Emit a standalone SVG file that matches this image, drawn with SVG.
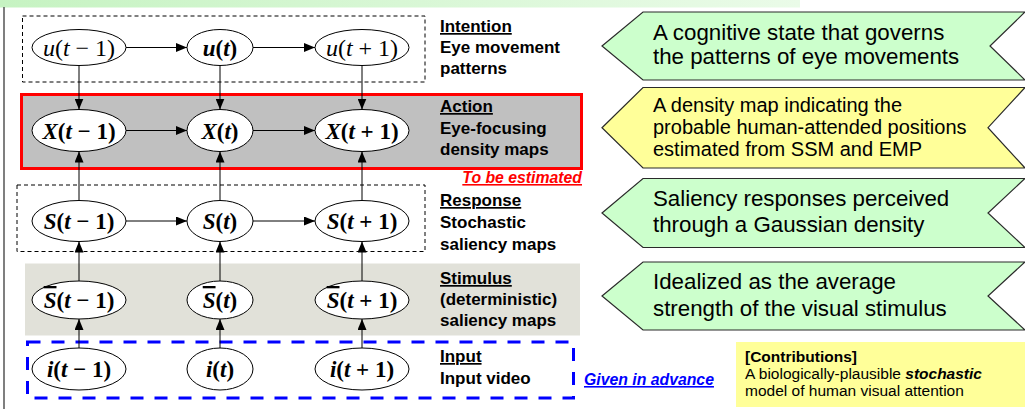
<svg xmlns="http://www.w3.org/2000/svg" width="1025" height="409" viewBox="0 0 1025 409">
<defs>
  <linearGradient id="hdr" x1="0" y1="0" x2="1" y2="0">
    <stop offset="0" stop-color="#c6f3c2"/>
    <stop offset="1" stop-color="#eafbe8"/>
  </linearGradient>
  <marker id="ah" viewBox="0 0 11 9" refX="11" refY="4.5" markerWidth="11" markerHeight="9" markerUnits="userSpaceOnUse" orient="auto">
    <path d="M0,0 L11,4.5 L0,9 z" fill="#000"/>
  </marker>
</defs>
<style>
  .node ellipse{fill:#fff;stroke:#000;stroke-width:1}
  .m{font-family:"Liberation Serif","DejaVu Serif",serif;font-size:23px;font-weight:bold;text-anchor:middle;fill:#000}
  .mr{font-weight:normal;font-size:24px}
  .it{font-style:italic}
  .lbl{font-family:"Liberation Sans",Arial,sans-serif;font-size:17px;font-weight:bold;fill:#000}
  .ul{text-decoration:underline}
  .ol{text-decoration:overline}
  .conn line{stroke:#000;stroke-width:1;marker-end:url(#ah)}
  .chev{stroke:#2a2a2a;stroke-width:1.2}
  .ct{font-family:"Liberation Sans",Arial,sans-serif;font-size:22.3px;fill:#000}
  .ct2{font-size:20px}
  .note{font-family:"Liberation Sans",Arial,sans-serif;font-size:15.8px;font-weight:bold;font-style:italic;text-decoration:underline}
  .cb{font-family:"Liberation Sans",Arial,sans-serif;font-size:15.5px;fill:#000}
</style>

<!-- header band -->
<rect x="0" y="0" width="800" height="7.5" fill="url(#hdr)"/>
<!-- left rule -->
<line x1="4" y1="7" x2="4" y2="409" stroke="#555" stroke-width="1.5"/>

<!-- layer frames -->
<g id="frame-intention">
  <rect x="22.5" y="16" width="402.5" height="66" fill="none" stroke="#000" stroke-width="1" stroke-dasharray="4 3"/>
</g>
<g id="frame-action">
  <rect x="21.5" y="94.5" width="560" height="74" fill="#c0c0c0" stroke="#ff0000" stroke-width="3"/>
</g>
<g id="frame-response">
  <rect x="17" y="185" width="408" height="66.5" fill="none" stroke="#000" stroke-width="1" stroke-dasharray="4 3"/>
</g>
<g id="frame-stimulus">
  <rect x="25" y="263.5" width="555" height="72" fill="#e1e1d9"/>
</g>
<g id="frame-input">
  <rect x="27.5" y="342" width="546" height="56" fill="none" stroke="#0000ff" stroke-width="3" stroke-dasharray="13 11"/>
</g>

<!-- connectors -->
<g id="connectors" class="conn">
  <line x1="126" y1="47.5" x2="187" y2="47.5"/>
  <line x1="253" y1="47.5" x2="315" y2="47.5"/>
  <line x1="126" y1="130.5" x2="187" y2="130.5"/>
  <line x1="253" y1="130.5" x2="315" y2="130.5"/>
  <line x1="126" y1="221" x2="187" y2="221"/>
  <line x1="253" y1="221" x2="315" y2="221"/>
  <line x1="79" y1="65.5" x2="79" y2="109.5"/>
  <line x1="220" y1="65.5" x2="220" y2="109.5"/>
  <line x1="362" y1="65.5" x2="362" y2="109.5"/>
  <line x1="79" y1="200.5" x2="79" y2="151.5"/>
  <line x1="220" y1="200.5" x2="220" y2="151.5"/>
  <line x1="362" y1="200.5" x2="362" y2="151.5"/>
  <line x1="79" y1="281" x2="79" y2="241.5"/>
  <line x1="220" y1="281" x2="220" y2="241.5"/>
  <line x1="362" y1="281" x2="362" y2="241.5"/>
  <line x1="79" y1="348" x2="79" y2="319"/>
  <line x1="220" y1="348" x2="220" y2="319"/>
  <line x1="362" y1="348" x2="362" y2="319"/>
</g>

<!-- nodes: intention -->
<g id="u-tm1" class="node"><ellipse cx="79" cy="47.5" rx="47" ry="18"/>
  <text class="m mr" x="79" y="56"><tspan class="it">u</tspan>(<tspan class="it">t</tspan> − 1)</text></g>
<g id="u-t" class="node"><ellipse cx="220" cy="47.5" rx="33" ry="18"/>
  <text class="m" x="220" y="55.5"><tspan class="it">u</tspan>(<tspan class="it">t</tspan>)</text></g>
<g id="u-tp1" class="node"><ellipse cx="362" cy="47.5" rx="47" ry="18"/>
  <text class="m mr" x="362" y="56"><tspan class="it">u</tspan>(<tspan class="it">t</tspan> + 1)</text></g>

<!-- nodes: action -->
<g id="X-tm1" class="node"><ellipse cx="79" cy="130.5" rx="47" ry="21"/>
  <text class="m" x="79" y="138.5"><tspan class="it">X</tspan>(<tspan class="it">t</tspan> − 1)</text></g>
<g id="X-t" class="node"><ellipse cx="220" cy="130.5" rx="33" ry="21"/>
  <text class="m" x="220" y="138.5"><tspan class="it">X</tspan>(<tspan class="it">t</tspan>)</text></g>
<g id="X-tp1" class="node"><ellipse cx="362" cy="130.5" rx="47" ry="21"/>
  <text class="m" x="362" y="138.5"><tspan class="it">X</tspan>(<tspan class="it">t</tspan> + 1)</text></g>

<!-- nodes: response -->
<g id="S-tm1" class="node"><ellipse cx="79" cy="221" rx="47" ry="20.5"/>
  <text class="m" x="79" y="229"><tspan class="it">S</tspan>(<tspan class="it">t</tspan> − 1)</text></g>
<g id="S-t" class="node"><ellipse cx="220" cy="221" rx="33" ry="20.5"/>
  <text class="m" x="220" y="229"><tspan class="it">S</tspan>(<tspan class="it">t</tspan>)</text></g>
<g id="S-tp1" class="node"><ellipse cx="362" cy="221" rx="47" ry="20.5"/>
  <text class="m" x="362" y="229"><tspan class="it">S</tspan>(<tspan class="it">t</tspan> + 1)</text></g>

<!-- nodes: stimulus -->
<g id="Sbar-tm1" class="node"><ellipse cx="79" cy="300" rx="47" ry="19"/>
  <text class="m" x="79" y="308"><tspan class="it ol">S</tspan>(<tspan class="it">t</tspan> − 1)</text></g>
<g id="Sbar-t" class="node"><ellipse cx="220" cy="300" rx="33" ry="19"/>
  <text class="m" x="220" y="308"><tspan class="it ol">S</tspan>(<tspan class="it">t</tspan>)</text></g>
<g id="Sbar-tp1" class="node"><ellipse cx="362" cy="300" rx="47" ry="19"/>
  <text class="m" x="362" y="308"><tspan class="it ol">S</tspan>(<tspan class="it">t</tspan> + 1)</text></g>

<!-- nodes: input -->
<g id="i-tm1" class="node"><ellipse cx="79" cy="369" rx="47" ry="21"/>
  <text class="m" x="79" y="377"><tspan class="it">i</tspan>(<tspan class="it">t</tspan> − 1)</text></g>
<g id="i-t" class="node"><ellipse cx="220" cy="369" rx="33" ry="21"/>
  <text class="m" x="220" y="377"><tspan class="it">i</tspan>(<tspan class="it">t</tspan>)</text></g>
<g id="i-tp1" class="node"><ellipse cx="362" cy="369" rx="47" ry="21"/>
  <text class="m" x="362" y="377"><tspan class="it">i</tspan>(<tspan class="it">t</tspan> + 1)</text></g>

<!-- layer labels -->
<g id="label-intention">
  <text x="440" y="32" class="lbl ul">Intention</text>
  <text x="440" y="53" class="lbl">Eye movement</text>
  <text x="440" y="74" class="lbl">patterns</text>
</g>
<g id="label-action">
  <text x="440" y="112" class="lbl ul">Action</text>
  <text x="440" y="134" class="lbl">Eye-focusing</text>
  <text x="440" y="155" class="lbl">density maps</text>
</g>
<text id="to-be-estimated" x="582" y="183" text-anchor="end" class="note" fill="#ff0000">To be estimated</text>
<g id="label-response">
  <text x="440" y="206" class="lbl ul">Response</text>
  <text x="440" y="228" class="lbl">Stochastic</text>
  <text x="440" y="250" class="lbl">saliency maps</text>
</g>
<g id="label-stimulus">
  <text x="440" y="284" class="lbl ul">Stimulus</text>
  <text x="440" y="305" class="lbl">(deterministic)</text>
  <text x="440" y="326" class="lbl">saliency maps</text>
</g>
<g id="label-input">
  <text x="440" y="362" class="lbl ul">Input</text>
  <text x="440" y="384" class="lbl">Input video</text>
</g>
<text id="given-in-advance" x="584" y="385" class="note" fill="#0000ff">Given in advance</text>

<!-- explanation chevrons -->
<g id="desc-intention">
  <polygon class="chev" fill="#ccffcc" points="602,46 643,12 1025,12 990,46 1025,80 643,80"/>
  <text class="ct" x="653" y="40">A cognitive state that governs</text>
  <text class="ct" x="653" y="64">the patterns of eye movements</text>
</g>
<g id="desc-action">
  <polygon class="chev" fill="#ffff99" points="602,127.7 643,87.5 1025,87.5 988,127.7 1025,168 643,168"/>
  <text class="ct ct2" x="653" y="112">A density map indicating the</text>
  <text class="ct ct2" x="653" y="134">probable human-attended positions</text>
  <text class="ct ct2" x="653" y="156">estimated from SSM and EMP</text>
</g>
<g id="desc-response">
  <polygon class="chev" fill="#ccffcc" points="602,213 643,178.5 1025,178.5 988,213 1025,247.5 643,247.5"/>
  <text class="ct" x="653" y="206">Saliency responses perceived</text>
  <text class="ct" x="653" y="232">through a Gaussian density</text>
</g>
<g id="desc-stimulus">
  <polygon class="chev" fill="#ccffcc" points="602,296 643,262 1025,262 988,296 1025,330 643,330"/>
  <text class="ct" x="653" y="289">Idealized as the average</text>
  <text class="ct" x="653" y="316">strength of the visual stimulus</text>
</g>

<!-- contributions -->
<g id="contributions">
  <rect x="736" y="342" width="289" height="65" fill="#ffff99"/>
  <text class="cb" x="745" y="362" font-weight="bold">[Contributions]</text>
  <text class="cb" x="745" y="379">A biologically-plausible <tspan font-weight="bold" font-style="italic">stochastic</tspan></text>
  <text class="cb" x="745" y="396">model of human visual attention</text>
</g>
</svg>
